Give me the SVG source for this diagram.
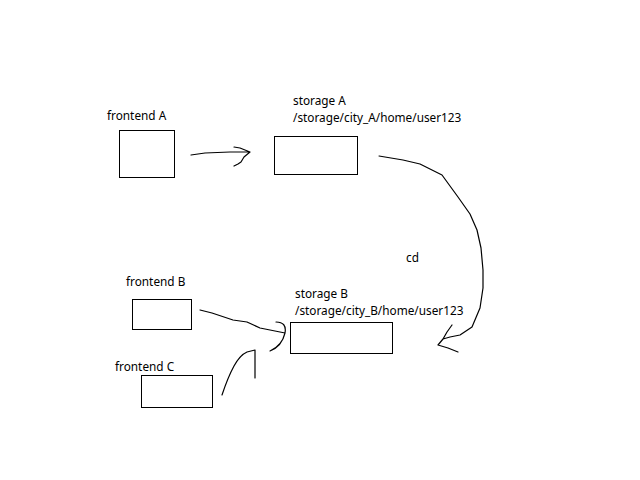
<svg xmlns="http://www.w3.org/2000/svg" width="640" height="480" viewBox="0 0 640 480">
<style>
.box{fill:#fff;stroke:#000;stroke-width:1}
.t{font-family:"Noto Sans","Open Sans",sans-serif;font-size:11.8px;fill:#000}
.c{fill:none;stroke:#000;stroke-width:1.2;stroke-linecap:round;stroke-linejoin:round}
</style>
<rect width="640" height="480" fill="#fff"/>
<g id="frontendA">
<text class="t" x="107" y="120">frontend A</text>
<rect class="box" x="119.5" y="130.5" width="55" height="47"/>
</g>
<g id="storageA">
<text class="t" x="293" y="105">storage A</text>
<text class="t" x="293" y="122">/storage/city_A/home/user123</text>
<rect class="box" x="274.5" y="136.5" width="83" height="38"/>
</g>
<g id="frontendB">
<text class="t" x="126" y="286">frontend B</text>
<rect class="box" x="132.5" y="299.5" width="59" height="30"/>
</g>
<g id="frontendC">
<text class="t" x="115" y="371">frontend C</text>
<rect class="box" x="141.5" y="375.5" width="71" height="32"/>
</g>
<g id="storageB">
<text class="t" x="295" y="298">storage B</text>
<text class="t" x="295" y="315">/storage/city_B/home/user123</text>
<rect class="box" x="290.5" y="322.5" width="102" height="31"/>
</g>
<g id="connectors">
<path class="c" d="M191,155 L205,153 L230,152 L250,152 M234,147 L240,148 L250,152 L244,157 L241,162 L238,164 L234,166"/>
<path class="c" d="M379,156 L403,160 L420,164 L442,175 L458,197 L470,214 L477,230 L481,248 L483,270 L483,288 L480,308 L472,327 L460,335 L450,337 L443,339 L438,345 L448,348 L458,352 M443,339 L447,332 L452,325"/>
<text class="t" x="406" y="262">cd</text>
<path class="c" d="M200,310 L212,313 L233,320 L247,322 L260,328 L285,333 M276,322 Q287,322 285,333 Q282,346 270,351"/>
<path class="c" d="M222,395 Q228,377 234,366 Q240,355 247,352 L255,350 M255,350 L255,378"/>
</g>
</svg>
